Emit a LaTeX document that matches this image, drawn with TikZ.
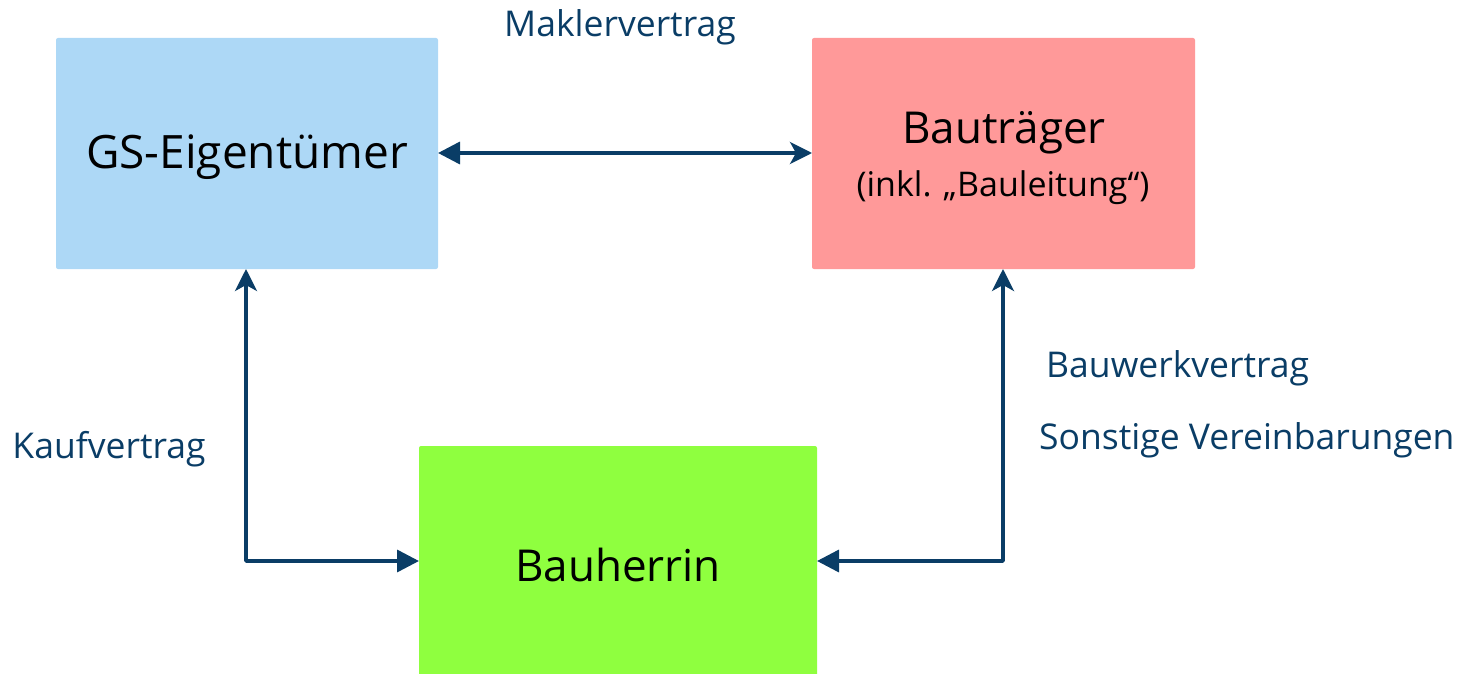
\documentclass[tikz,border=0pt]{standalone}
\usepackage{fontspec}
\setmainfont{Open Sans}
\usetikzlibrary{arrows.meta}
\definecolor{lineblue}{HTML}{0A3D66}
\definecolor{gsblue}{HTML}{ADD8F6}
\definecolor{btred}{HTML}{FF9999}
\definecolor{bhgreen}{HTML}{8FFF3F}
\begin{document}
\begin{tikzpicture}[x=1pt,y=-1pt,
  conn/.style={draw=lineblue,line width=3.5pt,line join=round},
  tri/.tip={Triangle[length=22pt,width=22pt]},
  stl/.tip={Stealth[length=22pt,width=22pt,inset=6pt]},
  lbl/.style={text=lineblue,font=\fontsize{35.5}{42}\selectfont,inner sep=0pt},
  big/.style={text=black,font=\fontsize{44}{52}\selectfont,inner sep=0pt},
  sub/.style={text=black,font=\fontsize{34}{40}\selectfont,inner sep=0pt}]
\useasboundingbox (0,0) rectangle (1465,674);
% boxes
\fill[gsblue,rounded corners=2pt] (56,38) rectangle (438,269);
\fill[btred,rounded corners=2pt] (812,38) rectangle (1195,269);
\fill[bhgreen,rounded corners=2pt] (419,446) rectangle (817,680);
\coordinate (gsR) at (438,153);
\coordinate (btL) at (812,153);
\coordinate (gsB) at (246,269);
\coordinate (btB) at (1003,269);
\coordinate (bhL) at (419,561);
\coordinate (bhR) at (817,561);
\coordinate (cL) at (246,561);
\coordinate (cR) at (1003,561);
\node[big,font=\fontsize{46}{54}\selectfont] (gs) at (247,157) {GS-Eigentümer};
\node[big] (bt) at (1004,133) {Bauträger};
\node[sub] (btsub) at (1003,188) {(inkl. „Bauleitung“)};
\node[big] (bh) at (618,565) {Bauherrin};
% connectors
\draw[conn,{tri}-{stl}] (gsR) -- (btL);
\draw[conn,{stl}-{tri}] (gsB) -- (cL) -- (bhL);
\draw[conn,{stl}-{tri}] (btB) -- (cR) -- (bhR);
% labels
\node[lbl] (mak) at (620,27) {Maklervertrag};
\node[lbl] (kauf) at (109,449) {Kaufvertrag};
\node[lbl,anchor=west] (bau) at (1046,368) {Bauwerkvertrag};
\node[lbl,anchor=west] (son) at (1039,440) {Sonstige Vereinbarungen};
\end{tikzpicture}
\end{document}
